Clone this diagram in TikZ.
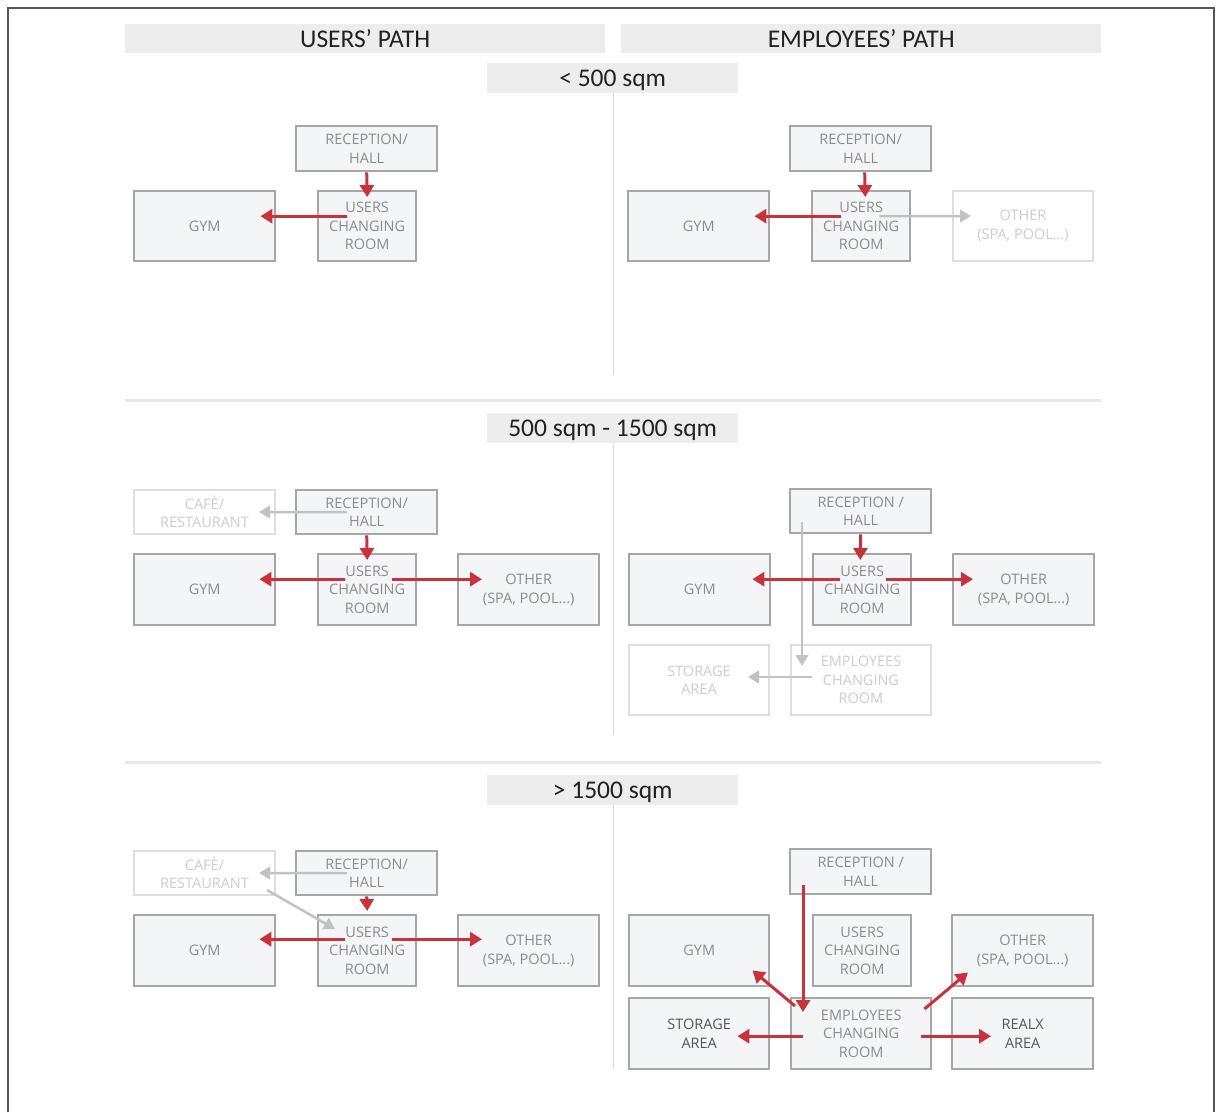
\documentclass[tikz,border=0pt]{standalone}
\usepackage{fontspec}
\setmainfont{Open Sans}
\newfontfamily\hfont{Carlito}
\usetikzlibrary{arrows.meta,calc}
\definecolor{boxfill}{HTML}{F4F5F7}
\definecolor{boxline}{HTML}{A6A6A6}
\definecolor{boxtext}{HTML}{8C8C8C}
\definecolor{lightline}{HTML}{DEDEDE}
\definecolor{lighttext}{HTML}{CDCDCD}
\definecolor{hdrfill}{HTML}{EDEDED}
\definecolor{hdrtext}{HTML}{222222}
\definecolor{sepc}{HTML}{E8E8E8}
\definecolor{divc}{HTML}{DCDCDC}
\definecolor{redc}{HTML}{C8323C}
\definecolor{grayarr}{HTML}{C2C2C2}
\definecolor{darktext}{HTML}{555555}
\definecolor{framec}{HTML}{555555}
\newcommand\myroom[7]{\node[#6, anchor=north west, minimum width={#4-#2}, minimum height={#5-#3}] (#1) at (#2,#3) {#7};}
\begin{document}
\begin{tikzpicture}[x=1pt,y=-1pt,
  box/.style={draw=boxline, line width=2.4pt, fill=boxfill, text=boxtext, align=center, inner sep=0pt, font=\fontsize{14.5}{18.5}\selectfont},
  lbox/.style={draw=lightline, line width=2pt, fill=white, text=lighttext, align=center, inner sep=0pt, font=\fontsize{14.5}{18.5}\selectfont},
  dbox/.style={box, text=darktext},
  hdr/.style={fill=hdrfill, text=hdrtext, inner sep=0pt, anchor=north west, text depth=0pt, font=\hfont\fontsize{25.5}{28}\selectfont},
  redarrow/.style={draw=redc, line width=3pt, -{Triangle[length=12pt,width=14pt]}},
  grayarrow/.style={draw=grayarr, line width=2.5pt, -{Triangle[length=11pt,width=12.5pt]}},
  sep/.style={draw=sepc, line width=3pt},
  divl/.style={draw=divc, line width=1pt}
]
\useasboundingbox (0,0) rectangle (1217,1112);
\draw[framec, line width=1.5pt] (8,1112) -- (8,8) -- (1214,8) -- (1214,1112);

% headers
\node[hdr, minimum width=480, minimum height=29] (hu) at (125,24) {USERS’ PATH};
\node[hdr, minimum width=480, minimum height=29] (he) at (621,24) {EMPLOYEES’ PATH};
\node[hdr, minimum width=251, minimum height=30] (s1) at (487,63) {< 500 sqm};
\node[hdr, minimum width=251, minimum height=30] (s2) at (487,413) {500 sqm - 1500 sqm};
\node[hdr, minimum width=251, minimum height=30] (s3) at (487,775) {> 1500 sqm};

% separators and dividers
\coordinate (sepA1) at (125,400); \coordinate (sepA2) at (1101,400);
\coordinate (sepB1) at (125,762); \coordinate (sepB2) at (1101,762);
\draw[sep] (sepA1) -- (sepA2);
\draw[sep] (sepB1) -- (sepB2);
\coordinate (d1e) at (613,375); \coordinate (d2e) at (613,735); \coordinate (d3e) at (613,1070);
\draw[divl] (s1.south -| d1e) -- (d1e);
\draw[divl] (s2.south -| d2e) -- (d2e);
\draw[divl] (s3.south -| d3e) -- (d3e);

% ---------- section 1 ----------
\myroom{a1r}{295}{125}{436}{170}{box}{RECEPTION/\\HALL}
\myroom{a1g}{133}{190}{274}{260}{box}{GYM}
\myroom{a1u}{317}{190}{415}{260}{box}{USERS\\CHANGING\\ROOM}
\draw[redarrow] (a1r.south) -- ($(a1u.north)+(0,7)$);
\draw[redarrow] ($(a1u.west)+(30,-10)$) -- ($(a1g.east)+(-16,-10)$);

\myroom{b1r}{789}{125}{930}{170}{box}{RECEPTION/\\HALL}
\myroom{b1g}{627}{190}{768}{260}{box}{GYM}
\myroom{b1u}{811}{190}{909}{260}{box}{USERS\\CHANGING\\ROOM}
\myroom{b1o}{952}{190}{1092}{260}{lbox}{OTHER\\(SPA, POOL...)}
\draw[grayarrow] ($(b1u.east)+(-32,-10)$) -- ($(b1o.west)+(19,-10)$);
\draw[redarrow] ($(b1r.south)+(4,0)$) -- ($(b1u.north)+(4,7)$);
\draw[redarrow] ($(b1u.west)+(30,-10)$) -- ($(b1g.east)+(-16,-10)$);

% ---------- section 2 ----------
\myroom{a2c}{133}{489}{274}{533}{lbox}{CAFÈ/\\RESTAURANT}
\myroom{a2r}{295}{489}{436}{533}{box}{RECEPTION/\\HALL}
\myroom{a2g}{133}{553}{274}{624}{box}{GYM}
\myroom{a2u}{317}{553}{415}{624}{box}{USERS\\CHANGING\\ROOM}
\myroom{a2o}{457}{553}{598}{624}{box}{OTHER\\(SPA, POOL...)}
\draw[grayarrow] ($(a2r.west)+(52,0)$) -- ($(a2c.east)+(-17,0)$);
\draw[redarrow] (a2r.south) -- ($(a2u.north)+(0,7)$);
\draw[redarrow] ($(a2u.west)+(28,-10.5)$) -- ($(a2g.east)+(-17,-10.5)$);
\draw[redarrow] ($(a2u.east)+(-25,-10.5)$) -- ($(a2o.west)+(25,-10.5)$);

\myroom{b2r}{789}{488}{930}{532}{box}{RECEPTION /\\HALL}
\myroom{b2g}{628}{553}{769}{624}{box}{GYM}
\myroom{b2u}{812}{553}{910}{624}{box}{USERS\\CHANGING\\ROOM}
\myroom{b2o}{952}{553}{1093}{624}{box}{OTHER\\(SPA, POOL...)}
\myroom{b2s}{628}{644}{768}{714}{lbox}{STORAGE\\AREA}
\myroom{b2e}{790}{644}{930}{714}{lbox}{EMPLOYEES\\CHANGING\\ROOM}
\draw[grayarrow] ($(b2r.west)+(13,11)$) -- ($(b2e.north west)+(12,22)$);
\draw[grayarrow] ($(b2e.west)+(22,-3)$) -- ($(b2s.east)+(-22,-3)$);
\draw[redarrow] (b2r.south) -- ($(b2u.north)+(-2,7)$);
\draw[redarrow] ($(b2u.west)+(28,-10.5)$) -- ($(b2g.east)+(-19,-10.5)$);
\draw[redarrow] ($(b2u.east)+(-26,-10.5)$) -- ($(b2o.west)+(21,-10.5)$);

% ---------- section 3 ----------
\myroom{a3c}{133}{850}{274}{894}{lbox}{CAFÈ/\\RESTAURANT}
\myroom{a3r}{295}{850}{436}{894}{box}{RECEPTION/\\HALL}
\myroom{a3g}{133}{914}{274}{985}{box}{GYM}
\myroom{a3u}{317}{914}{415}{985}{box}{USERS\\CHANGING\\ROOM}
\myroom{a3o}{457}{914}{598}{985}{box}{OTHER\\(SPA, POOL...)}
\draw[grayarrow] ($(a3r.west)+(52,0)$) -- ($(a3c.east)+(-17,0)$);
\draw[grayarrow] ($(a3c.east)+(-9,17)$) -- ($(a3u.north west)+(18,15)$);
\draw[redarrow] (a3r.south) -- ($(a3u.north)+(0,-3)$);
\draw[redarrow] ($(a3u.west)+(28,-11.5)$) -- ($(a3g.east)+(-17,-11.5)$);
\draw[redarrow] ($(a3u.east)+(-25,-11.5)$) -- ($(a3o.west)+(25,-11.5)$);

\myroom{b3r}{789}{848}{930}{893}{box}{RECEPTION /\\HALL}
\myroom{b3g}{628}{914}{768}{985}{box}{GYM}
\myroom{b3u}{812}{914}{910}{985}{box}{USERS\\CHANGING\\ROOM}
\myroom{b3o}{951}{914}{1092}{985}{box}{OTHER\\(SPA, POOL...)}
\myroom{b3s}{628}{997}{768}{1068}{dbox}{STORAGE\\AREA}
\myroom{b3e}{790}{997}{930}{1068}{box}{EMPLOYEES\\CHANGING\\ROOM}
\myroom{b3x}{951}{997}{1092}{1068}{dbox}{REALX\\AREA}
\draw[redarrow] ($(b3r.west)+(14,13.5)$) -- ($(b3e.north west)+(13,15)$);
\draw[redarrow] ($(b3e.north west)+(5,9)$) -- ($(b3g.south east)+(-18,-17)$);
\draw[redarrow] ($(b3e.north east)+(-8,12)$) -- ($(b3o.south west)+(17,-15)$);
\draw[redarrow] ($(b3e.west)+(13,2.5)$) -- ($(b3s.east)+(-33,2.5)$);
\draw[redarrow] ($(b3e.east)+(-11,2.5)$) -- ($(b3x.west)+(40,2.5)$);
\end{tikzpicture}
\end{document}
